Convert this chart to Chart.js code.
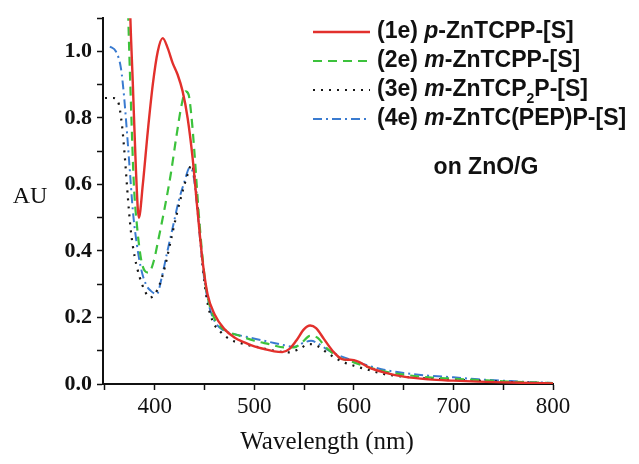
<!DOCTYPE html>
<html lang="en">
<head>
    <meta charset="UTF-8">
    <title>UV-vis spectra on ZnO/G</title>
    <script src="https://cdn.jsdelivr.net/npm/chart.js"></script>
    <style>
        body { margin: 0; background: #fff; }
        #wrap { width: 639px; height: 464px; }
    </style>
</head>
<body>
    <div id="wrap"><canvas id="spectra" width="639" height="464"></canvas></div>
    <script>
        // wavelengths (nm) and absorbance (AU)
        const nm1e = [374,375,378,381,384,388,393,398,403,408,413,418,423,428,433,438,443,448,453,460,470,480,490,500,510,520,528,535,542,550,556,562,570,580,588,595,600,606,615,630,650,675,700,725,750,775,800];
        const au1e = [1.3,1.15,0.9,0.65,0.5,0.6,0.76,0.9,1.0,1.04,1.01,0.965,0.93,0.88,0.8,0.68,0.52,0.37,0.27,0.21,0.165,0.14,0.125,0.113,0.105,0.098,0.096,0.105,0.13,0.165,0.176,0.168,0.135,0.095,0.075,0.073,0.072,0.065,0.05,0.035,0.022,0.014,0.01,0.007,0.005,0.003,0.002];

        const nm2e = [372,373,376,379,382,386,390,394,399,404,410,416,422,427,431,434,437,440,444,448,452,458,465,475,485,500,515,530,540,548,556,563,572,585,600,615,630,650,675,700,725,750,775,800];
        const au2e = [1.3,1.15,0.85,0.6,0.48,0.38,0.34,0.335,0.37,0.44,0.53,0.63,0.75,0.84,0.88,0.87,0.8,0.69,0.52,0.38,0.28,0.21,0.175,0.155,0.145,0.13,0.12,0.11,0.11,0.125,0.145,0.14,0.11,0.08,0.065,0.05,0.038,0.028,0.02,0.016,0.012,0.008,0.005,0.003];

        const nm3e = [350,358,363,367,370,373,376,380,385,390,395,400,405,410,416,422,428,433,437,440,444,448,452,458,465,475,490,505,520,535,545,555,563,575,590,600,615,630,650,675,700,725,750,775,800];
        const au3e = [0.86,0.86,0.85,0.78,0.68,0.56,0.46,0.38,0.32,0.28,0.26,0.27,0.30,0.35,0.43,0.51,0.58,0.63,0.66,0.62,0.5,0.36,0.26,0.19,0.16,0.135,0.12,0.11,0.1,0.095,0.105,0.12,0.115,0.09,0.065,0.055,0.042,0.03,0.022,0.016,0.013,0.01,0.007,0.004,0.002];

        const nm4e = [355,361,366,369,372,375,378,382,386,391,396,402,407,412,418,424,430,435,438,442,446,450,455,462,470,480,495,510,525,540,550,557,565,575,590,600,615,630,650,675,700,725,750,775,800];
        const au4e = [1.015,1.0,0.95,0.87,0.76,0.64,0.52,0.42,0.35,0.3,0.28,0.27,0.32,0.39,0.47,0.55,0.61,0.65,0.64,0.55,0.42,0.31,0.23,0.18,0.16,0.15,0.14,0.13,0.12,0.112,0.125,0.13,0.12,0.1,0.08,0.07,0.055,0.043,0.033,0.025,0.02,0.014,0.01,0.006,0.003];

        const xTickValues = [350, 400, 450, 500, 550, 600, 650, 700, 750, 800];
        const xTicks = [400, 500, 600, 700, 800];
        const yTicks = [0.0, 0.2, 0.4, 0.6, 0.8, 1.0];

        // legend rows: text pieces, [text, italic, subscript]
        const legendRows = [
            [['(1e) ', false], ['p', true], ['-ZnTCPP-[S]', false]],
            [['(2e) ', false], ['m', true], ['-ZnTCPP-[S]', false]],
            [['(3e) ', false], ['m', true], ['-ZnTCP', false], ['2', false, true], ['P-[S]', false]],
            [['(4e) ', false], ['m', true], ['-ZnTC(PEP)P-[S]', false]],
        ];

        const styles = [
            { color: '#e2302c', dash: [], width: 2.4 },
            { color: '#3cc23c', dash: [9, 6], width: 2.2 },
            { color: '#161616', dash: [2, 6], width: 2.2 },
            { color: '#3a7bd0', dash: [9, 4, 2, 4], width: 2 },
        ];

        function pts(xs, ys) {
            return xs.map((x, i) => ({ x: x, y: ys[i] }));
        }

        const series = [pts(nm1e, au1e), pts(nm2e, au2e), pts(nm3e, au3e), pts(nm4e, au4e)];

        // titles and the hand-made legend
        const decorations = {
            id: 'decorations',
            afterDraw(chart) {
                const c = chart.ctx;
                c.save();
                c.fillStyle = '#111';
                c.textBaseline = 'middle';

                c.font = '24px "Liberation Serif"';
                c.textAlign = 'center';
                c.fillText('AU', 30, 197);
                c.font = '25px "Liberation Serif"';
                c.fillText('Wavelength (nm)', 327, 442);

                const rowY = [32, 61, 90, 119];
                legendRows.forEach((row, i) => {
                    const y = rowY[i];
                    const s = styles[i];
                    c.strokeStyle = s.color;
                    c.lineWidth = s.width;
                    c.setLineDash(s.dash);
                    c.beginPath();
                    c.moveTo(313, y);
                    c.lineTo(370, y);
                    c.stroke();
                    c.setLineDash([]);

                    let x = 377;
                    c.textAlign = 'left';
                    row.forEach(p => {
                        const size = p[2] ? 14 : 23;
                        c.font = (p[1] ? 'italic ' : '') + 'bold ' + size + 'px "Liberation Sans"';
                        c.fillText(p[0], x, p[2] ? y + 9 : y);
                        x += c.measureText(p[0]).width;
                    });
                });

                c.font = 'bold 23px "Liberation Sans"';
                c.textAlign = 'center';
                c.fillText('on ZnO/G', 486, 168);
                c.restore();
            }
        };

        const ctx = document.getElementById('spectra').getContext('2d');
        const chart = new Chart(ctx, {
            type: 'line',
            data: {
                datasets: series.map((d, i) => ({
                    data: d,
                    borderColor: styles[i].color,
                    borderDash: styles[i].dash,
                    borderWidth: styles[i].width,
                    pointRadius: 0,
                    fill: false,
                    cubicInterpolationMode: 'monotone',
                })),
            },
            options: {
                responsive: false,
                animation: false,
                devicePixelRatio: 1,
                layout: { padding: { top: 15, right: 86, left: 0, bottom: 0 } },
                plugins: { legend: { display: false }, tooltip: { enabled: false } },
                scales: {
                    x: {
                        type: 'linear',
                        min: 348,
                        max: 800,
                        afterBuildTicks: s => { s.ticks = xTickValues.map(v => ({ value: v })); },
                        afterFit: s => { s.height = 80; },
                        border: { display: true, color: '#111', width: 2 },
                        grid: { drawOnChartArea: false, drawTicks: true, tickLength: 6, tickColor: '#111', tickWidth: 1.5 },
                        ticks: {
                            autoSkip: false,
                            maxRotation: 0,
                            padding: 3,
                            color: '#111',
                            font: { family: 'Liberation Serif', size: 23 },
                            callback: v => xTicks.includes(v) ? String(v) : '',
                        },
                    },
                    y: {
                        min: 0,
                        max: 1.1,
                        afterFit: s => { s.width = 103; },
                        border: { display: true, color: '#111', width: 2 },
                        grid: { drawOnChartArea: false, drawTicks: true, tickLength: 6, tickColor: '#111', tickWidth: 1.5 },
                        ticks: {
                            stepSize: 0.1,
                            autoSkip: false,
                            padding: 5,
                            color: '#111',
                            font: { family: 'Liberation Serif', size: 22, weight: 'bold' },
                            callback: v => {
                                const t = yTicks.find(k => Math.abs(k - v) < 1e-6);
                                return t === undefined ? '' : t.toFixed(1);
                            },
                        },
                    },
                },
            },
            plugins: [decorations],
        });
    </script>
</body>
</html>
